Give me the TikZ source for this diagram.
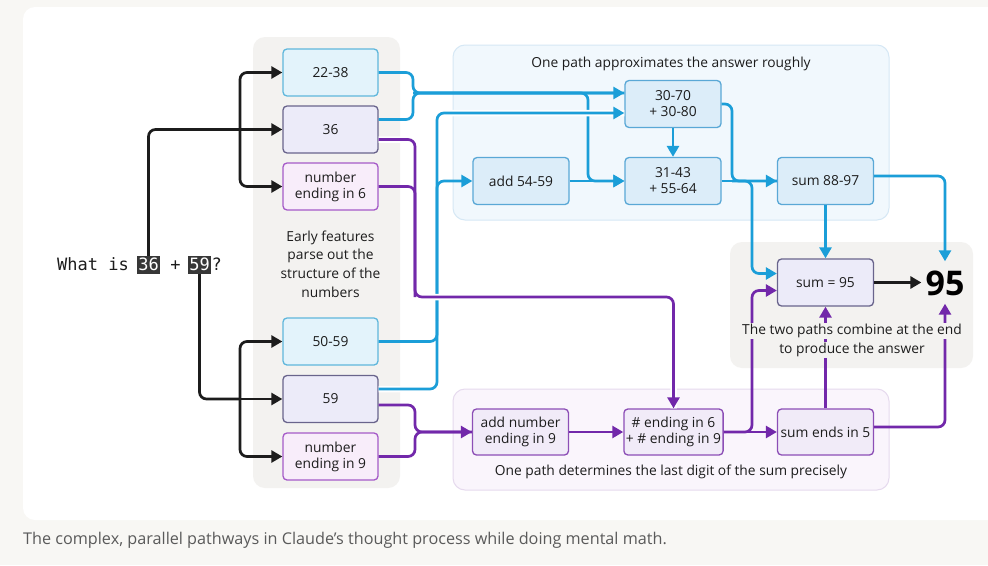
\documentclass[tikz,border=0pt]{standalone}
\usepackage{fontspec}
\setmainfont{Open Sans}
\newfontfamily\qfont{DejaVu Sans Mono}
\usetikzlibrary{arrows.meta, positioning}
\definecolor{ink}{RGB}{28,28,28}
\definecolor{pageBg}{RGB}{248,247,244}
\definecolor{colBg}{RGB}{243,242,240}
\definecolor{capGray}{RGB}{90,90,90}
\definecolor{qDark}{RGB}{55,55,55}
\definecolor{blueFill}{RGB}{227,243,251}
\definecolor{blueDraw}{RGB}{95,183,220}
\definecolor{lavFill}{RGB}{236,235,249}
\definecolor{lavDraw}{RGB}{105,100,140}
\definecolor{pinkFill}{RGB}{248,237,250}
\definecolor{pinkDraw}{RGB}{165,90,200}
\definecolor{apxFill}{RGB}{220,237,249}
\definecolor{apxDraw}{RGB}{90,168,214}
\definecolor{apxPanel}{RGB}{241,248,253}
\definecolor{apxEdge}{RGB}{214,232,245}
\definecolor{digFill}{RGB}{241,235,248}
\definecolor{digDraw}{RGB}{140,78,182}
\definecolor{digPanel}{RGB}{250,245,252}
\definecolor{digEdge}{RGB}{230,218,238}
\definecolor{wireBlue}{RGB}{27,158,216}
\definecolor{wirePurple}{RGB}{114,40,170}

\begin{document}
\begin{tikzpicture}[x=1pt, y=-1pt,
    box/.style={rectangle, rounded corners=4pt, line width=1.3pt, minimum width=95pt, minimum height=47pt,
      inner sep=2pt, align=center, text=ink, font=\fontsize{13.8}{16}\selectfont},
    featblue/.style={box, draw=blueDraw, fill=blueFill},
    featnum/.style={box, draw=lavDraw, fill=lavFill},
    featend/.style={box, draw=pinkDraw, fill=pinkFill},
    approx/.style={box, minimum width=96pt, draw=apxDraw, fill=apxFill},
    digit/.style={box, minimum width=96pt, minimum height=46pt, draw=digDraw, fill=digFill},
    note/.style={align=center, text=ink, inner sep=1pt, font=\fontsize{13.8}{18.7}\selectfont},
    panel/.style={rounded corners=12pt},
    qtxt/.style={inner xsep=0pt, inner ysep=1.5pt, text height=12.5pt, text depth=2.5pt, text=ink,
      font=\qfont\fontsize{17}{20}\selectfont},
    qnum/.style={qtxt, fill=qDark, text=white, inner xsep=1.5pt},
    wire/.style={line width=2.7pt, rounded corners=7pt},
    kline/.style={wire, draw=ink},
    karr/.style={kline, -{Triangle[length=11pt, width=12pt]}},
    bline/.style={wire, draw=wireBlue},
    barr/.style={bline, -{Triangle[length=11pt, width=12pt]}},
    pline/.style={wire, draw=wirePurple},
    parr/.style={pline, -{Triangle[length=11pt, width=12pt]}},
    halo/.style={preaction={draw=white, line width=6.5pt, arrows=-}}]
  \useasboundingbox (0,0) rectangle (988,565);
  \fill[pageBg] (0,0) rectangle (988,565);
  \fill[white, panel] (23,7) rectangle (1010,520);
  \fill[colBg, panel] (253,37) rectangle (400,488);
  \filldraw[panel, fill=apxPanel, draw=apxEdge, line width=1pt] (453,45) rectangle (889,220);
  \filldraw[panel, fill=digPanel, draw=digEdge, line width=1pt] (453,389) rectangle (889,490);
  \fill[colBg, panel] (730,242) rectangle (973,368);

  \node[qtxt, anchor=west] (qwhat) at (57,265) {What is};
  \node[qnum] (qa) at (148.5,265) {36};
  \node[qtxt] (qplus) at (175.5,265) {+};
  \node[qnum] (qb) at (199.5,265) {59};
  \node[qtxt, anchor=west] (qmark) at (211.3,265) {?};

  \node[featblue] (n2238) at (330.5,72.5) {22-38};
  \node[featnum] (n36) at (330.5,129.5) {36};
  \node[featend] (nend6) at (330.5,186.5) {number\\ending in 6};
  \node[note] (tearly) at (330.5,264) {Early features\\parse out the\\structure of the\\numbers};
  \node[featblue] (n5059) at (330.5,341.5) {50-59};
  \node[featnum] (n59) at (330.5,399) {59};
  \node[featend] (nend9) at (330.5,456.5) {number\\ending in 9};

  \node[note] (ttop) at (671,64) {One path approximates the answer roughly};
  \node[approx] (n3070) at (673,104) {30-70\\+ 30-80};
  \node[approx] (n5459) at (521,181) {add 54-59};
  \node[approx] (n3143) at (673,181) {31-43\\+ 55-64};
  \node[approx] (n8897) at (825.5,181) {sum 88-97};

  \node[digit] (naddnine) at (520.5,432) {add number\\ending in 9};
  \node[digit] (nhash) at (673.5,432) {\# ending in 6\\+ \# ending in 9};
  \node[digit] (nsumends) at (825.5,432) {sum ends in 5};
  \node[note] (tbot) at (671,472) {One path determines the last digit of the sum precisely};

  \node[box, minimum width=96pt, draw=lavDraw, fill=lavFill] (nsum95) at (825.5,282.5) {sum = 95};
  \node[inner xsep=4pt, inner ysep=0pt, minimum height=42pt, text height=26pt, text depth=0pt,
    text=black, font=\bfseries\fontsize{34}{34}\selectfont] (nres) at (945,282.5) {95};

  \node[anchor=west, inner sep=0pt, text=capGray, font=\fontsize{16.2}{19}\selectfont] (ncap) at (23,540)
    {The complex, parallel pathways in Claude's thought process while doing mental math.};

  \coordinate (jA) at (240,129.5);
  \coordinate (jB) at (240,399);
  \draw[kline] (qa.north) |- (jA);
  \foreach \n in {n2238,nend6} \draw[karr] (jA) |- (\n.west);
  \draw[karr] (jA) -- (n36);
  \draw[kline] (qb.south) |- (jB);
  \foreach \n in {n5059,nend9} \draw[karr] (jB) |- (\n.west);
  \draw[karr] (jB) -- (n59);

  \coordinate (jC) at (413,93);
  \coordinate (jD) at (588,181);
  \coordinate (jF) at (732,181);
  \coordinate (jG) at (752,181);
  \draw[barr] (n2238.east) -| (jC) -- (n3070.west |- jC);
  \draw[bline] ([yshift=10pt]n36.east) -| (jC) -- (n3070.west |- jC);
  \draw[barr] (jC) -| (jD) -- (n3143.west);
  \draw[barr] (n5459) -- (n3143);
  \draw[barr] (n3070) -- (n3143);
  \draw[barr] (n3143) -- (n8897);
  \draw[bline] (n3070.east) -| (jF) -- (n8897.west);
  \draw[barr] (jF) -- (jG) |- ([yshift=9pt]nsum95.west);
  \draw[barr] (n8897) -- (nsum95);
  \draw[barr] ([yshift=5pt]n8897.east) -| (nres.north);

  \coordinate (jK) at (437,113);
  \coordinate (jL) at (437,320);
  \draw[barr, halo] ([yshift=10pt]n59.east) -| (jK) -- ([yshift=-9pt]n3070.west);
  \draw[bline] (n5059.east) -| (jL);
  \draw[barr] (jL) |- (n5459.west);

  \coordinate (jH) at (415,297);
  \coordinate (jI) at (415,432);
  \coordinate (jJ) at (752,432);
  \draw[parr, halo] ([yshift=-10pt]n36.east) -| (jH) -| (nhash.north);
  \draw[pline] (nend6.east) -| (jH);
  \draw[parr] ([yshift=-6pt]n59.east) -| (jI) -- (naddnine.west);
  \draw[pline] (nend9.east) -| (jI) -- (naddnine.west);
  \draw[parr] (naddnine) -- (nhash);
  \draw[parr] (nhash) -- (nsumends);
  \draw[parr] (nhash.east) -- (jJ) |- ([yshift=-8pt]nsum95.west);
  \draw[parr] (nsumends) -- (nsum95);
  \draw[parr] ([yshift=5pt]nsumends.east) -| (nres.south);

  \draw[karr] (nsum95) -- (nres);

  \node[note, fill=colBg] (tcomb1) at (852,331) {The two paths combine at the end};
  \node[note, fill=colBg] (tcomb2) at (852,350) {to produce the answer};
\end{tikzpicture}
\end{document}
